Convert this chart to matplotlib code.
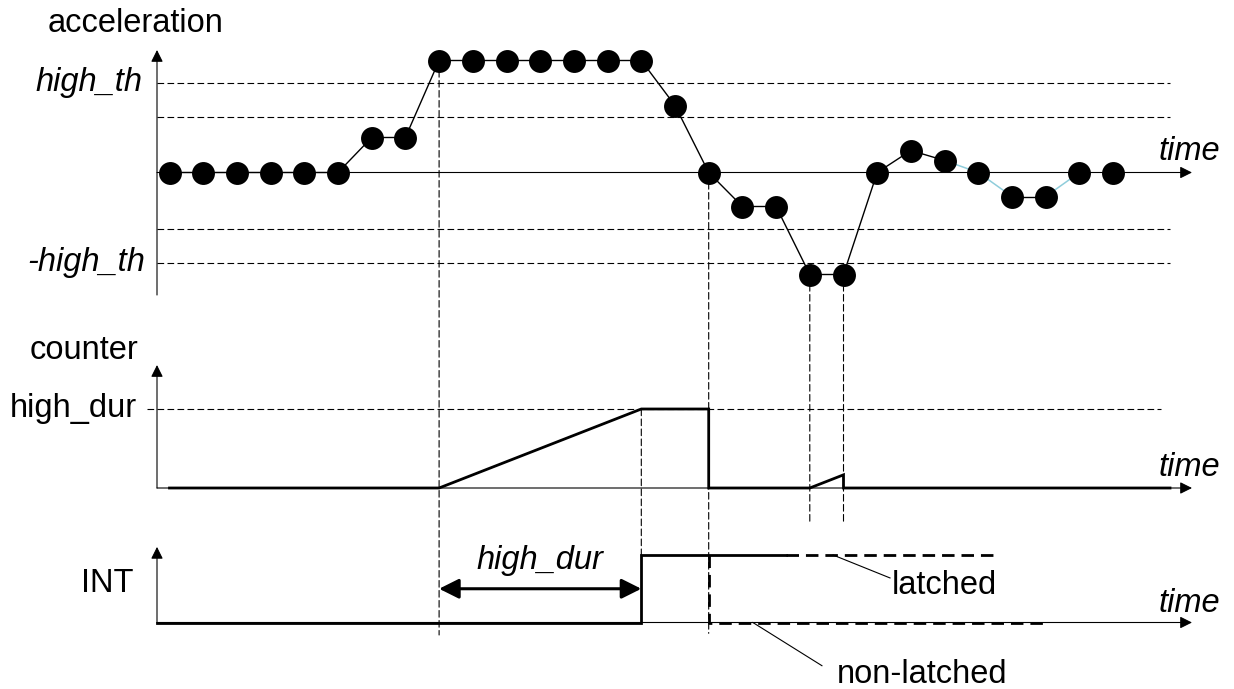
"""Timing diagram: high-g detection with duration counter and INT output."""

import numpy as np
import matplotlib.pyplot as plt
from matplotlib.patches import ConnectionPatch

plt.rcParams["font.family"] = ["Liberation Sans", "DejaVu Sans"]

# --- data -------------------------------------------------------------------
acc_t = np.arange(29)
acc_v = [0, 0, 0, 0, 0, 0, 35, 35, 112, 112, 112, 112, 112, 112, 112, 67, 0,
         -34, -34, -102, -102, 0, 22, 12, 0, -24, -24, 0, 0]
high_th = 90
inner_th = 56
faint_runs = [(23, 25), (26, 27)]  # sample ranges joined by the light line

counter_t = [0, 8, 14, 16, 16, 19, 20, 20]
counter_v = [0, 0, 6, 6, 0, 0, 1, 0]
high_dur = 6

int_rise_t = 14
int_fall_t = 16
latched_solid_end = 18.3
latched_end = 24.45
nonlatched_end = 26.0

guide_t = [8, 14, 16, 19, 20]

# --- layout (pixel geometry of the figure) ---------------------------------
W, H = 1234, 689
X0, DX = 169.5, 33.7          # pixel of sample 0, pixels per sample
FS = 23.5
T_AX = (157 - X0) / DX        # vertical axes position
T_END = (1192 - X0) / DX      # arrow tip of the time axes
T_DASH = (1170 - X0) / DX     # end of the dashed levels


def panel(fig, base_px, px_per_unit):
    ax = fig.add_axes([0, 0, 1, 1])
    ax.set_xlim(-X0 / DX, (W - X0) / DX)
    ax.set_ylim(-(H - base_px) / px_per_unit, base_px / px_per_unit)
    ax.set_axis_off()
    ax.patch.set_alpha(0)
    return ax


def arrow(ax, x0, y0, x1, y1, **kw):
    props = dict(arrowstyle="-|>", mutation_scale=18, lw=0.8, color="black",
                 shrinkA=0, shrinkB=0)
    props.update(kw)
    ax.annotate("", xy=(x1, y1), xytext=(x0, y0), arrowprops=props)


fig = plt.figure(figsize=(W / 100, H / 100), dpi=100)
ax_a = panel(fig, 172.5, 1.0)
ax_c = panel(fig, 488, 79 / high_dur)
ax_i = panel(fig, 622.5, 67.5)

thin = dict(color="black", lw=0.8, dashes=(6, 3))

# acceleration panel
for lvl in (high_th, inner_th, -inner_th, -high_th):
    ax_a.plot([T_AX, T_DASH], [lvl, lvl], **thin)
arrow(ax_a, T_AX, 0, T_END, 0)
arrow(ax_a, T_AX, -122.5, T_AX, 122.5)
ax_a.plot(acc_t[:24], acc_v[:24], color="black", lw=1.0, zorder=3)
ax_a.plot(acc_t[25:27], acc_v[25:27], color="black", lw=1.0, zorder=3)
for a, b in faint_runs:
    ax_a.plot(acc_t[a:b + 1], acc_v[a:b + 1], color="#8fcddb", lw=1.1, zorder=3)
ax_a.plot(acc_t, acc_v, "o", color="black", ms=16.5, mew=0, zorder=4)

ax_a.text((48 - X0) / DX, 140.5, "acceleration", fontsize=FS, va="baseline")
ax_a.text((142 - X0) / DX, high_th, "high_th", fontsize=FS, style="italic",
          ha="right", va="center")
ax_a.text((145 - X0) / DX, -high_th, "-high_th", fontsize=FS, style="italic",
          ha="right", va="center")
ax_a.text((1159 - X0) / DX, 12.5, "time", fontsize=FS, style="italic",
          va="baseline")

# counter panel
ax_c.plot([(147 - X0) / DX, (1161 - X0) / DX], [high_dur, high_dur], **thin)
arrow(ax_c, T_AX, 0, T_END, 0)
arrow(ax_c, T_AX, 0, T_AX, 9.34)
ax_c.plot(counter_t + [T_DASH], counter_v + [0], color="black", lw=2.0,
          solid_joinstyle="miter", zorder=3)
ax_c.text((30 - X0) / DX, 9.8, "counter", fontsize=FS, va="baseline")
ax_c.text((137 - X0) / DX, high_dur, "high_dur", fontsize=FS, ha="right",
          va="center")
ax_c.text((1159 - X0) / DX, 0.91, "time", fontsize=FS, style="italic",
          va="baseline")

# INT panel
arrow(ax_i, T_AX, 0, T_END, 0)
arrow(ax_i, T_AX, 0, T_AX, 1.12)
ax_i.plot([T_AX, int_rise_t, int_rise_t, latched_solid_end], [0, 0, 1, 1],
          color="black", lw=2.0, solid_joinstyle="miter", zorder=3)
ax_i.plot([latched_solid_end, latched_end], [1, 1], color="black", lw=2.0,
          dashes=(4.5, 2.5), zorder=3)
ax_i.plot([int_fall_t, int_fall_t, nonlatched_end], [1, 0, 0], color="black",
          lw=2.0, dashes=(4.5, 2.5), zorder=3)
arrow(ax_i, guide_t[0], 0.5, int_rise_t, 0.5, arrowstyle="<|-|>",
      mutation_scale=30, lw=2.2)
ax_i.text(11.0, 0.92, "high_dur", fontsize=FS, style="italic", ha="center",
          va="center")
ax_i.text((133 - X0) / DX, 0.585, "INT", fontsize=FS, ha="right", va="center")
ax_i.text((1159 - X0) / DX, 0.16, "time", fontsize=FS, style="italic",
          va="baseline")

ax_i.plot([19.69, 21.38], [1.0, 0.66], color="black", lw=0.8)
ax_i.text(21.44, 0.42, "latched", fontsize=FS, va="baseline")
ax_i.plot([17.31, 19.36], [0.0, -0.64], color="black", lw=0.8)
ax_i.text(19.8, -0.89, "non-latched", fontsize=FS, va="baseline")

# vertical guide lines across the panels
guide_ends = [
    (ax_a, acc_v[8], ax_i, -0.185),
    (ax_c, high_dur, ax_i, 1.0),
    (ax_a, 0, ax_i, -0.16),
    (ax_a, acc_v[19], ax_c, -2.58),
    (ax_a, acc_v[20], ax_c, -2.58),
]
for t, (a_top, y_top, a_bot, y_bot) in zip(guide_t, guide_ends):
    con = ConnectionPatch((t, y_top), (t, y_bot), coordsA=a_top.transData,
                          coordsB=a_bot.transData, color="black", lw=0.8,
                          linestyle=(0, (6, 3)), zorder=1)
    fig.add_artist(con)

fig.savefig("out.png", dpi=100)
